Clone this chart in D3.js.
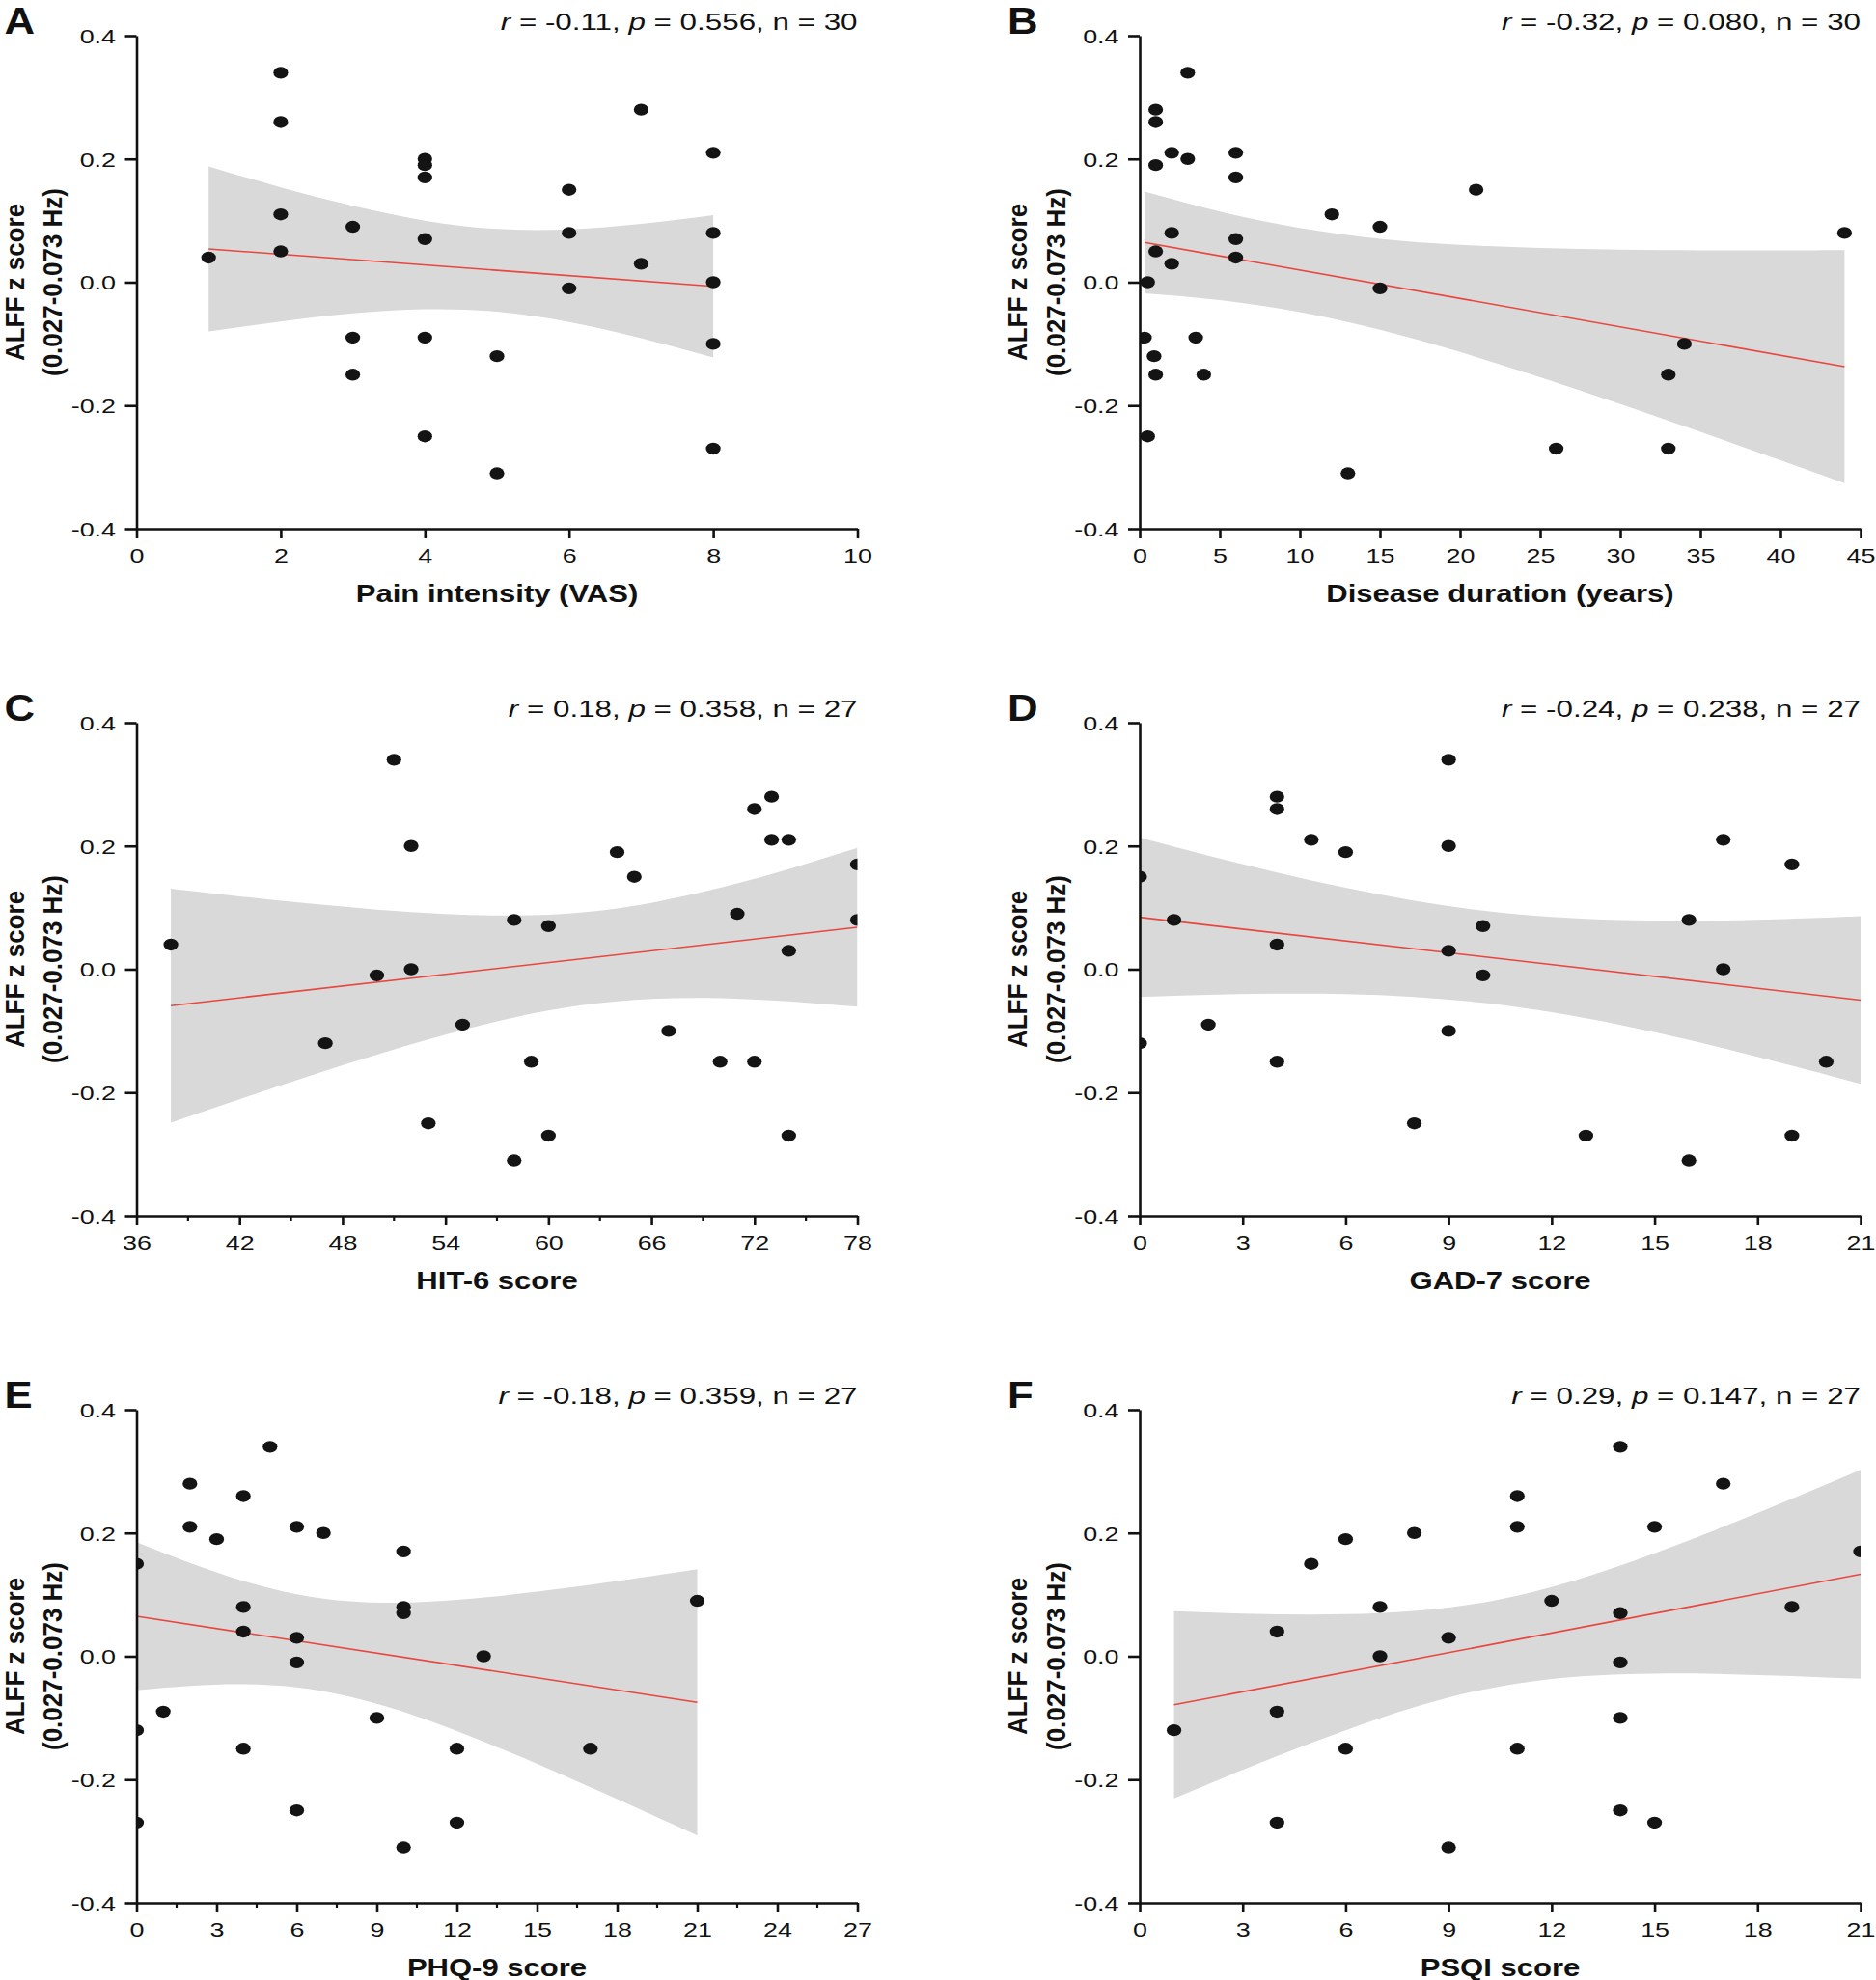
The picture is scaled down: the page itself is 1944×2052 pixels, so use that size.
<!DOCTYPE html>
<html>
<head>
<meta charset="utf-8">
<script src="https://cdn.jsdelivr.net/npm/d3@7"></script>
<style>
  html, body { margin: 0; padding: 0; background: #fff; }
  svg { display: block; }
  text { font-family: "Liberation Sans", Arial, Helvetica, sans-serif; fill: #111; }
</style>
</head>
<body>
<svg id="chart" width="1944" height="2052"></svg>
<script>
// ---------------- DATA ----------------
const panelLetters = ["A", "B", "C", "D", "E", "F"];
const xTitles = ["Pain intensity (VAS)", "Disease duration (years)", "HIT-6 score", "GAD-7 score", "PHQ-9 score", "PSQI score"];
const yTitleLine1 = "ALFF z score";
const yTitleLine2 = "(0.027-0.073 Hz)";
const statR = ["-0.11", "-0.32", "0.18", "-0.24", "-0.18", "0.29"];
const statP = ["0.556", "0.080", "0.358", "0.238", "0.359", "0.147"];
const statN = ["30", "30", "27", "27", "27", "27"];

const yTicks = [-0.4, -0.2, 0.0, 0.2, 0.4];
const xDomains = [[0, 10], [0, 45], [36, 78], [0, 21], [0, 27], [0, 21]];
const xTicksA = [0, 2, 4, 6, 8, 10];
const xTicksB = [0, 5, 10, 15, 20, 25, 30, 35, 40, 45];
const xTicksC = [36, 42, 48, 54, 60, 66, 72, 78];
const xTicksD = [0, 3, 6, 9, 12, 15, 18, 21];
const xTicksE = [0, 3, 6, 9, 12, 15, 18, 21, 24, 27];
const xTicksF = [0, 3, 6, 9, 12, 15, 18, 21];
const minorC = [39, 45, 51, 57, 63, 69, 75];
const minorE = [1.5, 4.5, 7.5, 10.5, 13.5, 16.5, 19.5, 22.5, 25.5];

// scatter points
const aX = [1, 2, 2, 2, 2, 3, 3, 3, 4, 4, 4, 4, 4, 4, 5, 5, 6, 6, 6, 7, 7, 8, 8, 8, 8, 8];
const aY = [0.04, 0.34, 0.26, 0.11, 0.05, 0.09, -0.09, -0.15, 0.20, 0.19, 0.17, 0.07, -0.09, -0.25, -0.12, -0.31, 0.15, 0.08, -0.01, 0.28, 0.03, 0.21, 0.08, 0.00, -0.10, -0.27];

const bX = [3, 1, 1, 2, 3, 1, 6, 6, 21, 12, 15, 44, 2, 6, 1, 2, 6, 0.5, 15, 0.3, 3.5, 34, 0.9, 1, 4, 33, 0.5, 26, 33, 13];
const bY = [0.34, 0.28, 0.26, 0.21, 0.20, 0.19, 0.21, 0.17, 0.15, 0.11, 0.09, 0.08, 0.08, 0.07, 0.05, 0.03, 0.04, 0.00, -0.01, -0.09, -0.09, -0.10, -0.12, -0.15, -0.15, -0.15, -0.25, -0.27, -0.27, -0.31];

const cX = [38, 51, 52, 52, 50, 47, 55, 53, 58, 58, 59, 60, 60, 64, 65, 67, 70, 71, 72, 72, 73, 73, 74, 74, 74, 78, 78];
const cY = [0.04, 0.34, 0.20, 0.00, -0.01, -0.12, -0.09, -0.25, 0.08, -0.31, -0.15, 0.07, -0.27, 0.19, 0.15, -0.10, -0.15, 0.09, 0.26, -0.15, 0.28, 0.21, 0.21, 0.03, -0.27, 0.17, 0.08];

const dX = [0, 0, 1, 2, 4, 4, 4, 4, 5, 6, 8, 9, 9, 9, 9, 10, 10, 13, 16, 16, 17, 17, 19, 19, 20];
const dY = [0.15, -0.12, 0.08, -0.09, 0.28, 0.26, 0.04, -0.15, 0.21, 0.19, -0.25, 0.34, 0.20, 0.03, -0.10, 0.07, -0.01, -0.27, 0.08, -0.31, 0.21, 0.00, 0.17, -0.27, -0.15];

const eX = [0, 0, 0, 1, 2, 2, 3, 4, 4, 4, 4, 5, 6, 6, 6, 6, 7, 9, 10, 10, 10, 10, 12, 12, 13, 17, 21];
const eY = [0.15, -0.12, -0.27, -0.09, 0.28, 0.21, 0.19, 0.26, 0.08, 0.04, -0.15, 0.34, 0.21, 0.03, -0.01, -0.25, 0.20, -0.10, 0.17, 0.08, 0.07, -0.31, -0.15, -0.27, 0.00, -0.15, 0.09];

const fX = [1, 4, 4, 4, 5, 6, 6, 7, 7, 8, 9, 9, 11, 11, 11, 12, 14, 14, 14, 14, 14, 15, 15, 17, 19, 21];
const fY = [-0.12, 0.04, -0.09, -0.27, 0.15, 0.19, -0.15, 0.08, 0.00, 0.20, 0.03, -0.31, 0.26, 0.21, -0.15, 0.09, 0.34, 0.07, -0.01, -0.10, -0.25, 0.21, -0.27, 0.28, 0.08, 0.17];

// fitted regression lines (end points)
const fitAX = [1, 8],    fitAY = [0.054, -0.0066];
const fitBX = [0.3, 44], fitBY = [0.0645, -0.137];
const fitCX = [38, 78],  fitCY = [-0.059, 0.068];
const fitDX = [0, 21],   fitDY = [0.0843, -0.050];
const fitEX = [0, 21],   fitEY = [0.065, -0.0748];
const fitFX = [1, 21],   fitFY = [-0.0787, 0.133];

// 95% confidence bands (edges)
const bandAX  = [1, 2, 3, 4, 5, 6, 7, 8];
const bandAHi = [0.188, 0.154, 0.124, 0.100, 0.0865, 0.0859, 0.0947, 0.1089];
const bandALo = [-0.080, -0.0637, -0.0506, -0.0439, -0.0477, -0.0645, -0.0907, -0.1221];

const bandBX  = [0.3, 5, 10, 15, 20, 25, 30, 35, 40, 44];
const bandBHi = [0.147, 0.1146, 0.0881, 0.0706, 0.0607, 0.0554, 0.0528, 0.0518, 0.0517, 0.0521];
const bandBLo = [-0.018, -0.029, -0.0485, -0.0772, -0.1133, -0.1542, -0.1976, -0.2428, -0.2889, -0.3261];

const bandCX  = [38, 42, 46, 50, 54, 58, 62, 66, 70, 74, 78];
const bandCHi = [0.1309, 0.1183, 0.1067, 0.0968, 0.0896, 0.0872, 0.0925, 0.1078, 0.1321, 0.1626, 0.1968];
const bandCLo = [-0.2489, -0.2109, -0.1739, -0.1386, -0.1060, -0.0782, -0.0581, -0.0480, -0.0469, -0.0520, -0.0608];

const bandDX  = [0, 2, 4, 6, 8, 10, 12, 14, 16, 18, 20, 21];
const bandDHi = [0.2136, 0.1844, 0.1570, 0.1321, 0.1111, 0.0952, 0.0850, 0.0799, 0.0788, 0.0804, 0.0838, 0.0860];
const bandDLo = [-0.0450, -0.0414, -0.0396, -0.0403, -0.0449, -0.0544, -0.0698, -0.0903, -0.1148, -0.1420, -0.1710, -0.1860];

const bandEX  = [0, 2, 4, 6, 8, 10, 12, 14, 16, 18, 20, 21];
const bandEHi = [0.1853, 0.1515, 0.1223, 0.1007, 0.0891, 0.0870, 0.0915, 0.0998, 0.1103, 0.1221, 0.1347, 0.1412];
const bandELo = [-0.0553, -0.0481, -0.0455, -0.0505, -0.0657, -0.0902, -0.1213, -0.1562, -0.1933, -0.2317, -0.2709, -0.2908];

const bandFX  = [1, 3, 5, 7, 9, 11, 13, 15, 17, 19, 21];
const bandFHi = [0.0731, 0.0694, 0.0678, 0.0700, 0.0790, 0.0983, 0.1287, 0.1671, 0.2100, 0.2556, 0.3025];
const bandFLo = [-0.2305, -0.1844, -0.1406, -0.1004, -0.0670, -0.0441, -0.0321, -0.0281, -0.0288, -0.0320, -0.0365];

// ---------------- LAYOUT ----------------
const colX = [141.5, 1181];
const rowTop = [37, 749, 1461];
const plotW = 747, plotH = 511;
const SX = 1.28;        // horizontal stretch of the original figure text
const ink = "#111";

const panels = [
  { xs: aX, ys: aY, fx: fitAX, fy: fitAY, bx: bandAX, bh: bandAHi, bl: bandALo, ticks: xTicksA, minor: [] },
  { xs: bX, ys: bY, fx: fitBX, fy: fitBY, bx: bandBX, bh: bandBHi, bl: bandBLo, ticks: xTicksB, minor: [] },
  { xs: cX, ys: cY, fx: fitCX, fy: fitCY, bx: bandCX, bh: bandCHi, bl: bandCLo, ticks: xTicksC, minor: minorC },
  { xs: dX, ys: dY, fx: fitDX, fy: fitDY, bx: bandDX, bh: bandDHi, bl: bandDLo, ticks: xTicksD, minor: [] },
  { xs: eX, ys: eY, fx: fitEX, fy: fitEY, bx: bandEX, bh: bandEHi, bl: bandELo, ticks: xTicksE, minor: minorE },
  { xs: fX, ys: fY, fx: fitFX, fy: fitFY, bx: bandFX, bh: bandFHi, bl: bandFLo, ticks: xTicksF, minor: [] }
];

const svg = d3.select("#chart");
const fmtY = d => d.toFixed(1);

panels.forEach((p, i) => {
  const col = i % 2, row = Math.floor(i / 2);
  const x0 = colX[col], y0 = rowTop[row];
  const g = svg.append("g").attr("transform", `translate(${x0},${y0})`);

  const x = d3.scaleLinear().domain(xDomains[i]).range([0, plotW]);
  const y = d3.scaleLinear().domain([-0.4, 0.4]).range([plotH, 0]);

  const clipId = "clip" + i;
  g.append("clipPath").attr("id", clipId)
    .append("rect").attr("x", 0).attr("y", 0).attr("width", plotW).attr("height", plotH);

  const plot = g.append("g").attr("clip-path", `url(#${clipId})`);

  // confidence band
  const bandData = p.bx.map((v, k) => ({ x: v, lo: p.bl[k], hi: p.bh[k] }));
  plot.append("path")
    .datum(bandData)
    .attr("fill", "#d9d9d9")
    .attr("d", d3.area().curve(d3.curveNatural)
      .x(d => x(d.x)).y0(d => y(d.lo)).y1(d => y(d.hi)));

  // regression line
  const fitData = p.fx.map((v, k) => ({ x: v, y: p.fy[k] }));
  plot.append("path")
    .datum(fitData)
    .attr("fill", "none")
    .attr("stroke", "#e8463f")
    .attr("stroke-width", 1.6)
    .attr("d", d3.line().x(d => x(d.x)).y(d => y(d.y)));

  // points
  const pts = p.xs.map((v, k) => ({ x: v, y: p.ys[k] }));
  plot.selectAll("ellipse.pt").data(pts).join("ellipse")
    .attr("class", "pt")
    .attr("cx", d => x(d.x)).attr("cy", d => y(d.y))
    .attr("rx", 7.6).attr("ry", 6.2)
    .attr("fill", "#141414");

  // y axis
  const yAxis = g.append("g").call(
    d3.axisLeft(y).tickValues(yTicks).tickSize(12).tickSizeOuter(0).tickFormat(fmtY));
  // x axis
  const xAxis = g.append("g").attr("transform", `translate(0,${plotH})`).call(
    d3.axisBottom(x).tickValues(p.ticks).tickSize(10).tickSizeOuter(0).tickFormat(d3.format("d")));

  [yAxis, xAxis].forEach(ax => {
    ax.select(".domain").attr("stroke", ink).attr("stroke-width", 2.6);
    ax.selectAll(".tick line").attr("stroke", ink).attr("stroke-width", 2.6);
  });
  yAxis.selectAll(".tick text")
    .attr("x", 0).attr("dy", "0.35em")
    .attr("transform", `translate(-21.5,0) scale(${SX},1)`)
    .attr("text-anchor", "end")
    .style("font-size", "21px").attr("fill", ink).attr("font-family", null).attr("font-size", null);
  xAxis.selectAll(".tick text")
    .attr("y", 0).attr("dy", null)
    .attr("transform", `translate(0,35) scale(${SX},1)`)
    .attr("text-anchor", "middle")
    .style("font-size", "21px").attr("fill", ink).attr("font-family", null).attr("font-size", null);

  // minor ticks
  g.selectAll("line.minor").data(p.minor).join("line")
    .attr("class", "minor")
    .attr("x1", d => x(d)).attr("x2", d => x(d))
    .attr("y1", plotH).attr("y2", plotH + 5)
    .attr("stroke", ink).attr("stroke-width", 2.2);

  // x title
  g.append("text")
    .attr("transform", `translate(${plotW / 2},${plotH + 76}) scale(${SX * 0.97},1)`)
    .attr("text-anchor", "middle")
    .style("font-size", "25px").style("font-weight", "bold")
    .text(xTitles[i]);

  // y title (two lines, rotated)
  const yt = g.append("text")
    .attr("transform", `translate(-117,${plotH / 2}) scale(1.08,1) rotate(-90)`)
    .attr("text-anchor", "middle")
    .style("font-size", "26px").style("font-weight", "bold");
  yt.append("tspan").attr("x", 0).attr("y", 0).text(yTitleLine1);
  yt.append("tspan").attr("x", 0).attr("y", 40 / 1.08).text(yTitleLine2);

  // panel letter
  g.append("text")
    .attr("transform", `translate(-137,-2) scale(1.15,1)`)
    .style("font-size", "38px").style("font-weight", "bold")
    .text(panelLetters[i]);

  // statistics
  const st = g.append("text")
    .attr("transform", `translate(${plotW},-6) scale(${SX},1)`)
    .attr("text-anchor", "end")
    .style("font-size", "24.5px");
  st.append("tspan").style("font-style", "italic").text("r");
  st.append("tspan").text(` = ${statR[i]}, `);
  st.append("tspan").style("font-style", "italic").text("p");
  st.append("tspan").text(` = ${statP[i]}, n = ${statN[i]}`);
});
</script>
</body>
</html>
